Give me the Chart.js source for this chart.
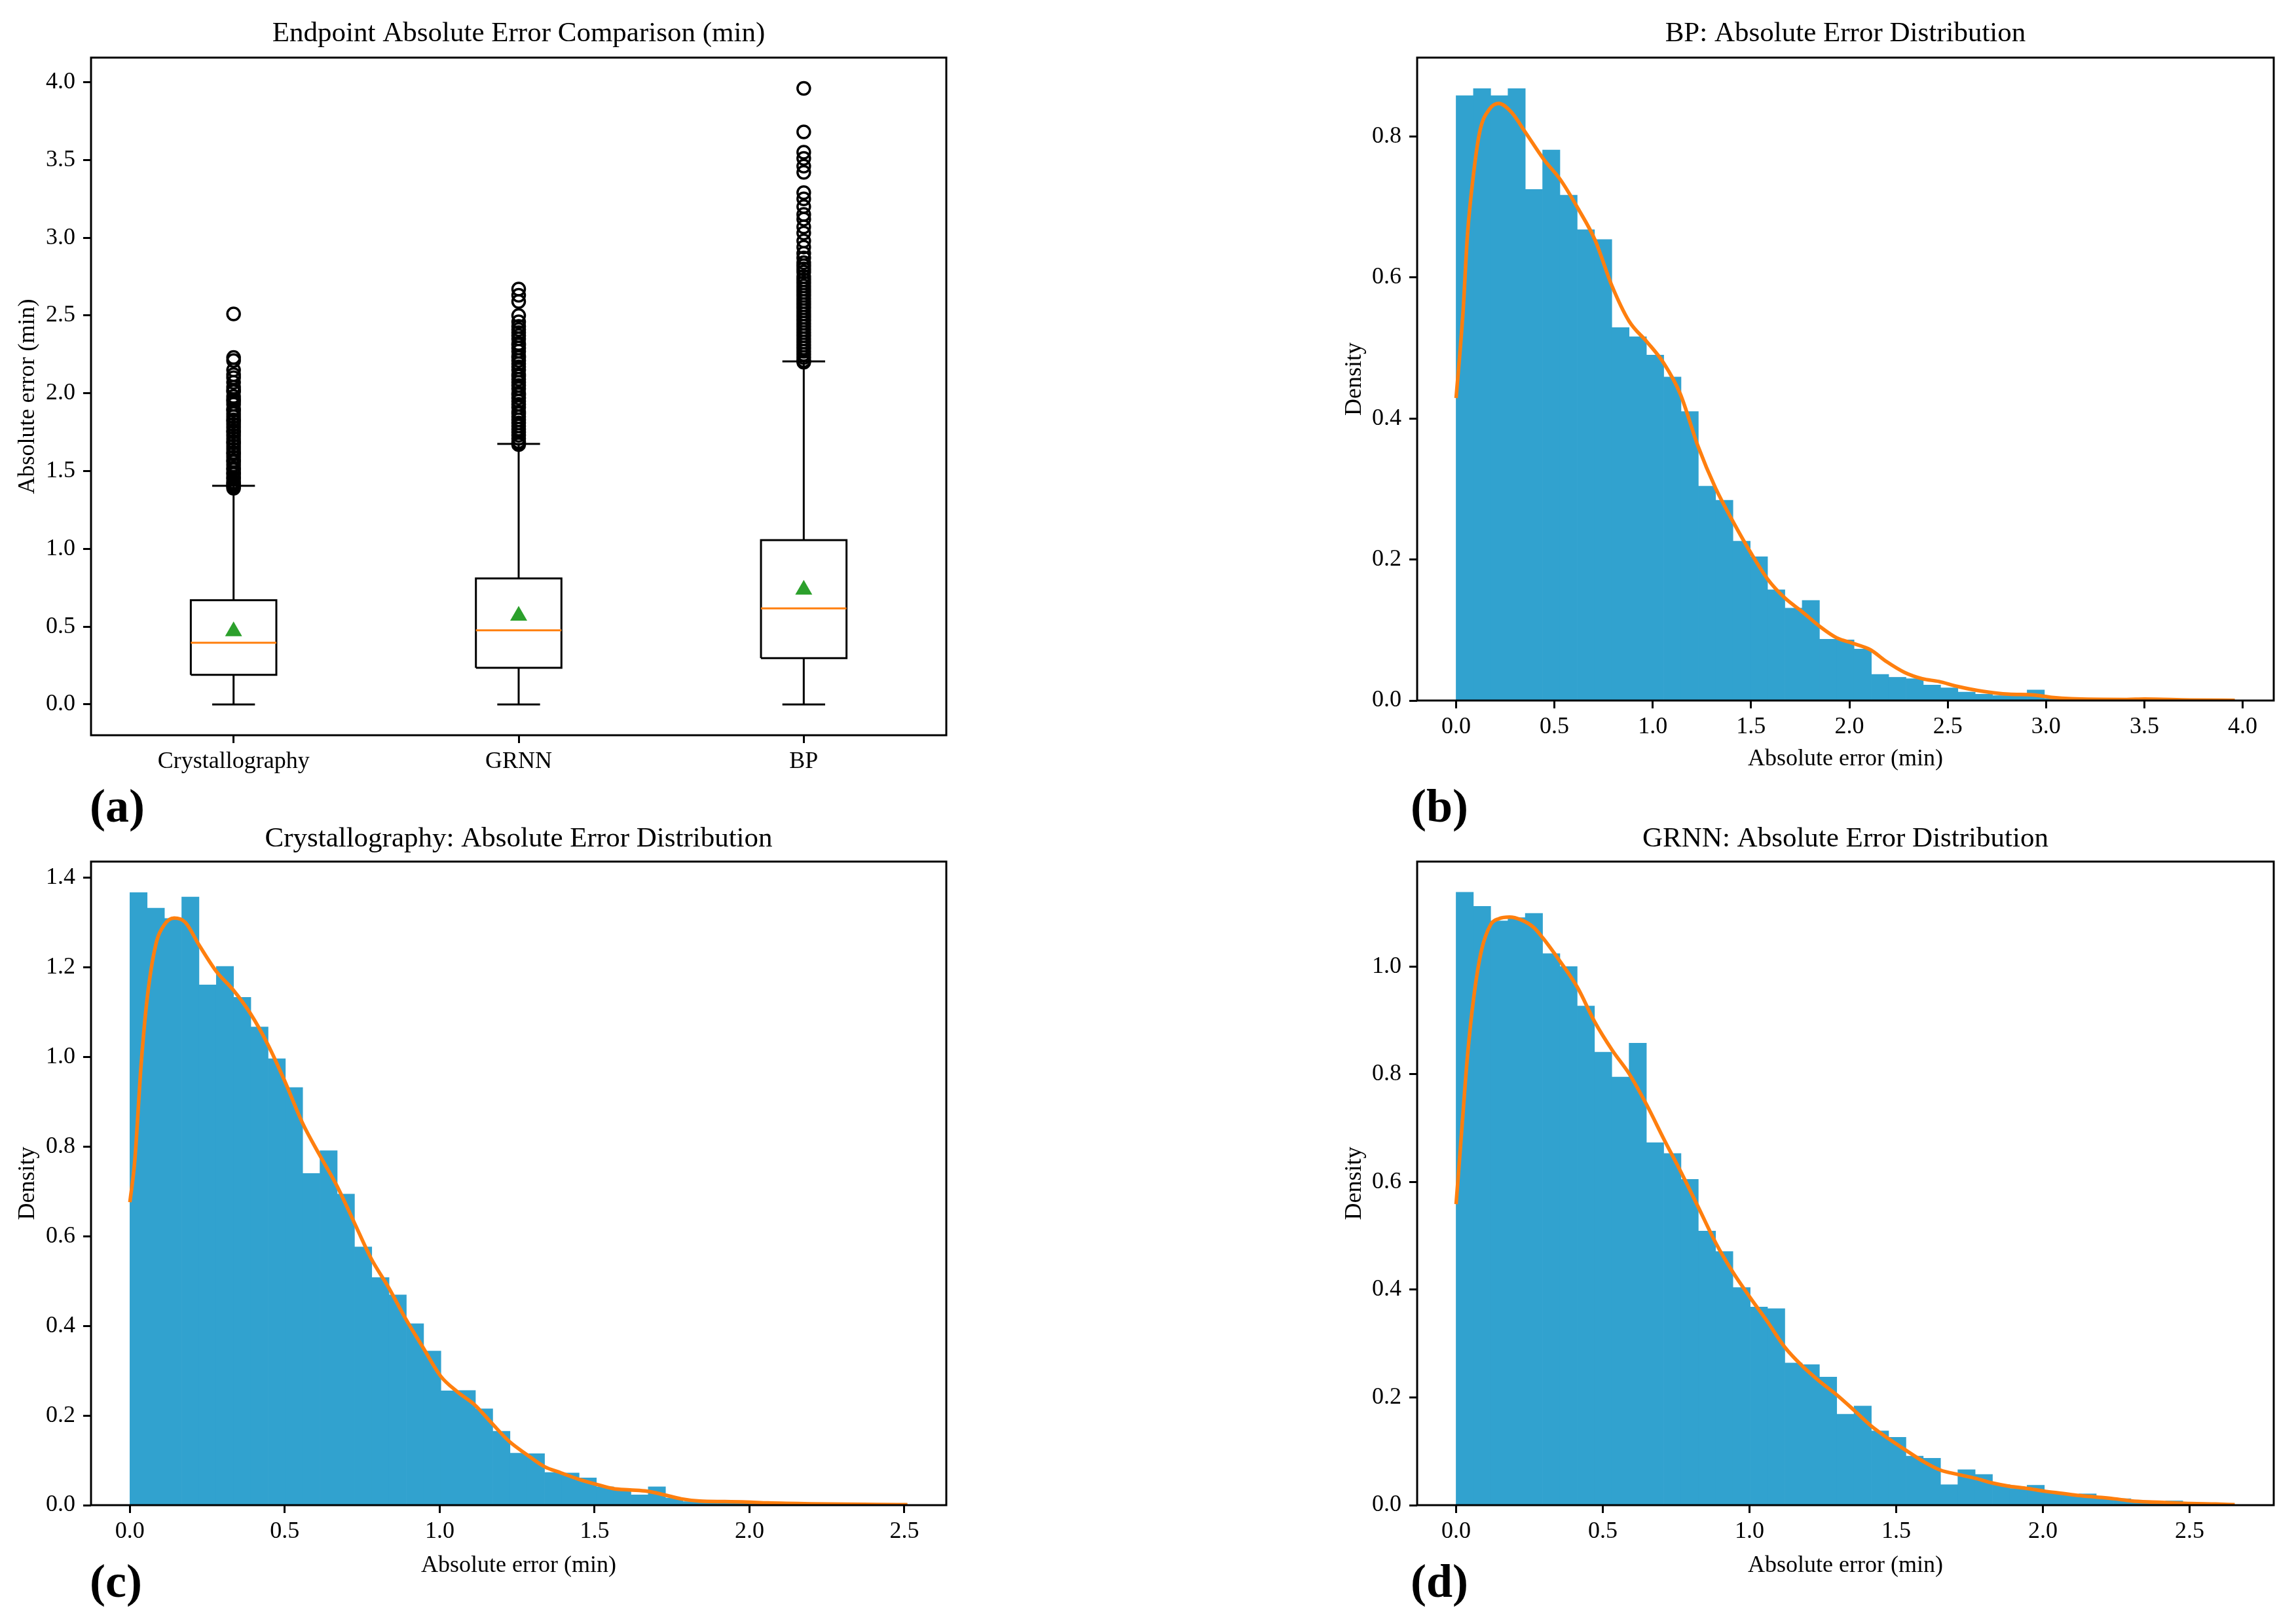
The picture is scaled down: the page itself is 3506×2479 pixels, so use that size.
<!DOCTYPE html>
<html>
<head>
<meta charset="utf-8">
<script src="https://cdn.jsdelivr.net/npm/chart.js@4.4.1/dist/chart.umd.min.js"></script>
<style>
  body { margin: 0; background: #fff; width: 3506px; height: 2479px; position: relative; overflow: hidden; font-family: 'Liberation Serif', serif; }
  canvas { position: absolute; }
  .tag { position: absolute; font-weight: bold; font-size: 72px; line-height: 72px; color: #000; }
</style>
</head>
<body>
<canvas id="boxChart" width="1500" height="1200" style="left:0;top:0"></canvas>
<canvas id="bpChart" width="1506" height="1200" style="left:2000px;top:0"></canvas>
<canvas id="crystChart" width="1500" height="1239" style="left:0;top:1240px"></canvas>
<canvas id="grnnChart" width="1506" height="1239" style="left:2000px;top:1240px"></canvas>
<div class="tag" style="left:137px;top:1195px">(a)</div>
<div class="tag" style="left:2154px;top:1195px">(b)</div>
<div class="tag" style="left:137px;top:2379px">(c)</div>
<div class="tag" style="left:2154px;top:2379px">(d)</div>
<script>
// Box plot (a)
var methods = ['Crystallography', 'GRNN', 'BP'];
var q1 = [0.19, 0.235, 0.298];
var medians = [0.396, 0.476, 0.617];
var q3 = [0.67, 0.81, 1.056];
var means = [0.47, 0.57, 0.737];
var whiskerLow = [0, 0, 0];
var whiskerHigh = [1.405, 1.675, 2.205];
var crystOutliers = [2.51, 2.23, 2.21, 2.15, 2.12, 2.10, 2.07, 2.04, 2.02, 2.01, 1.98, 1.96, 1.95, 1.93, 1.90, 1.89, 1.87, 1.85, 1.83, 1.82, 1.80, 1.78, 1.76, 1.75, 1.73, 1.71, 1.69, 1.68, 1.66, 1.64, 1.62, 1.61, 1.59, 1.57, 1.56, 1.54, 1.52, 1.51, 1.49, 1.48, 1.46, 1.45, 1.43, 1.42, 1.41, 1.40, 1.39];
var grnnOutliers = [2.67, 2.63, 2.59, 2.50, 2.46, 2.43, 2.41, 2.39, 2.37, 2.35, 2.32, 2.31, 2.29, 2.27, 2.24, 2.23, 2.21, 2.19, 2.17, 2.15, 2.12, 2.11, 2.09, 2.07, 2.05, 2.03, 2.00, 1.99, 1.97, 1.95, 1.93, 1.91, 1.88, 1.87, 1.85, 1.83, 1.81, 1.79, 1.77, 1.75, 1.73, 1.71, 1.69, 1.68, 1.67];
var bpOutliers = [3.96, 3.68, 3.55, 3.51, 3.46, 3.42, 3.29, 3.25, 3.20, 3.15, 3.12, 3.07, 3.03, 2.98, 2.94, 2.90, 2.87, 2.84, 2.82, 2.80, 2.78, 2.75, 2.73, 2.71, 2.69, 2.67, 2.65, 2.63, 2.61, 2.59, 2.57, 2.55, 2.53, 2.51, 2.49, 2.47, 2.45, 2.43, 2.41, 2.39, 2.37, 2.35, 2.33, 2.31, 2.29, 2.27, 2.25, 2.23, 2.21, 2.20];
var boxYTicks = [0, 0.5, 1, 1.5, 2, 2.5, 3, 3.5, 4];
var boxYRange = [-0.198, 4.158];

// Histograms (b), (c), (d) - 45 bins from 0 to the max error
var binCount = 45;
var bpMax = 3.96;
var bpDensity = [0.858, 0.868, 0.858, 0.868, 0.725, 0.781, 0.717, 0.668, 0.654, 0.529, 0.516, 0.490, 0.459, 0.410, 0.304, 0.284, 0.226, 0.204, 0.157, 0.131, 0.142, 0.087, 0.086, 0.073, 0.037, 0.033, 0.031, 0.022, 0.018, 0.012, 0.009, 0.007, 0.007, 0.015, 0.003, 0.002, 0.001, 0.001, 0.0005, 0.002, 0.0005, 0.0005, 0, 0.0005, 0.0005];
var bpKdeX = [0, 0.035, 0.058, 0.09, 0.122, 0.17, 0.217, 0.28, 0.355, 0.445, 0.53, 0.62, 0.707, 0.79, 0.88, 0.97, 1.055, 1.14, 1.23, 1.32, 1.41, 1.5, 1.585, 1.67, 1.76, 1.85, 1.935, 2.02, 2.107, 2.19, 2.28, 2.37, 2.455, 2.55, 2.68, 2.81, 2.935, 3.03, 3.13, 3.41, 3.5, 3.73, 3.96];
var bpKdeY = [0.429, 0.55, 0.661, 0.75, 0.809, 0.839, 0.847, 0.835, 0.805, 0.768, 0.739, 0.698, 0.653, 0.590, 0.538, 0.509, 0.479, 0.435, 0.361, 0.301, 0.253, 0.209, 0.172, 0.146, 0.126, 0.105, 0.089, 0.081, 0.072, 0.055, 0.040, 0.031, 0.027, 0.020, 0.013, 0.009, 0.008, 0.0045, 0.0025, 0.0015, 0.002, 0.0007, 0.0003];
var bpXTicks = [0, 0.5, 1, 1.5, 2, 2.5, 3, 3.5, 4];
var bpYTicks = [0, 0.2, 0.4, 0.6, 0.8];
var bpXRange = [-0.198, 4.158];
var bpYMax = 0.912;

var crystMax = 2.51;
var crystDensity = [1.367, 1.332, 1.309, 1.357, 1.161, 1.202, 1.133, 1.067, 0.996, 0.932, 0.740, 0.791, 0.694, 0.576, 0.508, 0.469, 0.405, 0.344, 0.255, 0.256, 0.215, 0.165, 0.116, 0.115, 0.073, 0.072, 0.061, 0.041, 0.034, 0.023, 0.041, 0.016, 0.008, 0.009, 0.009, 0.007, 0.005, 0.002, 0.002, 0.001, 0.001, 0.001, 0.0005, 0.0005, 0.001];
var crystKdeX = [0, 0.016, 0.036, 0.056, 0.083, 0.111, 0.143, 0.178, 0.224, 0.28, 0.333, 0.389, 0.446, 0.5, 0.557, 0.611, 0.668, 0.724, 0.779, 0.835, 0.89, 0.946, 1.003, 1.057, 1.113, 1.168, 1.225, 1.281, 1.338, 1.392, 1.448, 1.503, 1.56, 1.614, 1.67, 1.725, 1.78, 1.84, 1.92, 1.99, 2.06, 2.2, 2.41, 2.51];
var crystKdeY = [0.676, 0.771, 0.981, 1.132, 1.249, 1.295, 1.310, 1.301, 1.249, 1.19, 1.15, 1.097, 1.027, 0.946, 0.853, 0.783, 0.713, 0.631, 0.55, 0.486, 0.416, 0.352, 0.288, 0.253, 0.224, 0.183, 0.142, 0.113, 0.086, 0.072, 0.058, 0.047, 0.037, 0.034, 0.031, 0.023, 0.014, 0.009, 0.008, 0.007, 0.005, 0.003, 0.0015, 0.001];
var crystXTicks = [0, 0.5, 1, 1.5, 2, 2.5];
var crystYTicks = [0, 0.2, 0.4, 0.6, 0.8, 1.0, 1.2, 1.4];
var crystXRange = [-0.1255, 2.6355];
var crystYMax = 1.436;

var grnnMax = 2.654;
var grnnDensity = [1.138, 1.112, 1.085, 1.091, 1.099, 1.024, 1.000, 0.927, 0.841, 0.795, 0.858, 0.673, 0.653, 0.605, 0.509, 0.471, 0.404, 0.368, 0.365, 0.264, 0.261, 0.238, 0.169, 0.184, 0.138, 0.126, 0.091, 0.087, 0.038, 0.066, 0.057, 0.038, 0.031, 0.037, 0.023, 0.019, 0.021, 0.012, 0.012, 0.007, 0.007, 0.008, 0.002, 0.001, 0.001];
var grnnKdeX = [0, 0.017, 0.039, 0.06, 0.086, 0.118, 0.146, 0.182, 0.221, 0.264, 0.296, 0.354, 0.414, 0.472, 0.532, 0.59, 0.65, 0.708, 0.768, 0.825, 0.886, 0.943, 1.003, 1.061, 1.121, 1.179, 1.239, 1.297, 1.357, 1.415, 1.475, 1.533, 1.593, 1.651, 1.711, 1.769, 1.829, 1.887, 1.947, 2.005, 2.065, 2.123, 2.183, 2.241, 2.301, 2.358, 2.418, 2.504, 2.59, 2.654];
var grnnKdeY = [0.559, 0.68, 0.835, 0.942, 1.029, 1.078, 1.089, 1.092, 1.087, 1.073, 1.053, 1.01, 0.961, 0.898, 0.845, 0.801, 0.743, 0.68, 0.617, 0.554, 0.486, 0.433, 0.385, 0.341, 0.293, 0.259, 0.23, 0.205, 0.176, 0.147, 0.123, 0.102, 0.081, 0.065, 0.057, 0.050, 0.041, 0.035, 0.031, 0.026, 0.022, 0.018, 0.015, 0.012, 0.008, 0.006, 0.005, 0.003, 0.002, 0.001];
var grnnXTicks = [0, 0.5, 1, 1.5, 2, 2.5];
var grnnYTicks = [0, 0.2, 0.4, 0.6, 0.8, 1.0];
var grnnXRange = [-0.1327, 2.787];
var grnnYMax = 1.195;

Chart.defaults.font.family = "'Liberation Serif', serif";
Chart.defaults.color = '#000';

var histColor = '#31a2cf';
var kdeColor = '#ff7f0e';
var tickGrid = { display: true, offset: false, drawOnChartArea: false, drawTicks: true, tickLength: 12, tickWidth: 3, tickColor: '#000' };

// full box around the plotting area, like matplotlib spines
var framePlugin = {
    id: 'frame',
    afterDraw: function(chart){
        var a = chart.chartArea, c = chart.ctx;
        c.save();
        c.strokeStyle = '#000';
        c.lineWidth = 3;
        c.strokeRect(a.left, a.top, a.right - a.left, a.bottom - a.top);
        c.restore();
    }
};

function fixedTicks(list){
    return function(s){ s.ticks = list.map(function(v){ return {value: v}; }); };
}

function yAxis(g, ticks, range, title){
    return {
        type: 'linear', position: 'left', min: range[0], max: range[1],
        afterFit: function(s){ s.width = g.yWidth; },
        afterBuildTicks: fixedTicks(ticks),
        ticks: { padding: 12, autoSkip: false, font: {size: 36}, callback: function(v){ return v.toFixed(1); } },
        grid: tickGrid,
        border: {display: false},
        title: { display: true, text: title, font: {size: 36}, padding: {top: g.yTitlePad, bottom: 0} }
    };
}

function xAxis(g, ticks, range, title, labelFn){
    return {
        type: 'linear', position: 'bottom', min: range[0], max: range[1], offset: false,
        afterFit: function(s){ s.height = g.xHeight; },
        afterBuildTicks: fixedTicks(ticks),
        ticks: { padding: 7, autoSkip: false, maxRotation: 0, font: {size: 36}, callback: labelFn },
        grid: tickGrid,
        border: {display: false},
        title: { display: !!title, text: title || '', font: {size: 36}, padding: {top: 0, bottom: g.xTitlePad} }
    };
}

// the panel title sits on an empty top axis so it is centred over the plot area
function titleAxis(g, title){
    return {
        type: 'linear', position: 'top', min: 0, max: 1, offset: false,
        afterFit: function(s){ s.height = g.titleHeight; },
        ticks: {display: false},
        grid: {display: false, drawTicks: false},
        border: {display: false},
        title: { display: true, text: title, font: {size: 43}, padding: {top: g.titleTop, bottom: 0} }
    };
}

function baseOptions(g){
    return {
        responsive: false,
        animation: false,
        devicePixelRatio: 1,
        layout: { padding: {left: 0, right: g.right, top: 0, bottom: 0} },
        plugins: { legend: {display: false}, tooltip: {enabled: false} }
    };
}

// ---- (a) box plot ----
var boxGeom = { yWidth: 139, right: 55, titleHeight: 88, titleTop: 26, xHeight: 77, xTitlePad: 0, yTitlePad: 21 };
var outlierSets = [crystOutliers, grnnOutliers, bpOutliers];
var halfBox = 0.15, halfCap = 0.075;

function seg(data, color){
    return { data: data, showLine: true, borderColor: color, borderWidth: 3, pointRadius: 0, tension: 0, fill: false };
}

var boxSets = [];
methods.forEach(function(m, i){
    var p = i + 1;
    boxSets.push({ data: [{x: p, y: means[i]}], pointStyle: 'triangle', pointRadius: 15, backgroundColor: '#2ca02c', borderColor: '#2ca02c', borderWidth: 0 });
    boxSets.push(seg([{x: p - halfBox, y: medians[i]}, {x: p + halfBox, y: medians[i]}], kdeColor));
});
methods.forEach(function(m, i){
    var p = i + 1;
    boxSets.push(seg([{x: p - halfBox, y: q1[i]}, {x: p + halfBox, y: q1[i]}, {x: p + halfBox, y: q3[i]}, {x: p - halfBox, y: q3[i]}, {x: p - halfBox, y: q1[i]}], '#000'));
    boxSets.push(seg([{x: p, y: q1[i]}, {x: p, y: whiskerLow[i]}], '#000'));
    boxSets.push(seg([{x: p, y: q3[i]}, {x: p, y: whiskerHigh[i]}], '#000'));
    boxSets.push(seg([{x: p - halfCap, y: whiskerLow[i]}, {x: p + halfCap, y: whiskerLow[i]}], '#000'));
    boxSets.push(seg([{x: p - halfCap, y: whiskerHigh[i]}, {x: p + halfCap, y: whiskerHigh[i]}], '#000'));
    boxSets.push({ data: outlierSets[i].map(function(v){ return {x: p, y: v}; }), pointStyle: 'circle', pointRadius: 9.5, borderWidth: 3.5, borderColor: '#000', backgroundColor: 'rgba(0,0,0,0)' });
});

var boxOpts = baseOptions(boxGeom);
boxOpts.scales = {
    x: xAxis(boxGeom, [1, 2, 3], [0.5, 3.5], null, function(v){ return methods[Math.round(v) - 1]; }),
    top: titleAxis(boxGeom, 'Endpoint Absolute Error Comparison (min)'),
    y: yAxis(boxGeom, boxYTicks, boxYRange, 'Absolute error (min)')
};
new Chart(document.getElementById('boxChart'), { type: 'scatter', data: {datasets: boxSets}, options: boxOpts, plugins: [framePlugin] });

// ---- histograms ----
function histPoints(maxValue, density){
    var w = maxValue / binCount;
    return density.map(function(d, k){ return {x: w * (k + 0.5), y: d}; });
}
function kdePoints(xs, ys){
    return xs.map(function(x, i){ return {x: x, y: ys[i]}; });
}

function makeHist(id, g, title, maxValue, density, kdeX, kdeY, xTicks, yTicks, xRange, yMax){
    var opts = baseOptions(g);
    opts.scales = {
        x: xAxis(g, xTicks, xRange, 'Absolute error (min)', function(v){ return v.toFixed(1); }),
        top: titleAxis(g, title),
        y: yAxis(g, yTicks, [0, yMax], 'Density')
    };
    new Chart(document.getElementById(id), {
        type: 'bar',
        data: { datasets: [
            { type: 'line', data: kdePoints(kdeX, kdeY), borderColor: kdeColor, borderWidth: 5.5, pointRadius: 0, cubicInterpolationMode: 'monotone', fill: false },
            { type: 'bar', data: histPoints(maxValue, density), backgroundColor: histColor, borderWidth: 0, barPercentage: 1, categoryPercentage: 1 }
        ] },
        options: opts,
        plugins: [framePlugin]
    });
}

var topRight = { yWidth: 164, right: 34, titleHeight: 88, titleTop: 26, xHeight: 130, xTitlePad: 19, yTitlePad: 47 };
var bottomLeft = { yWidth: 139, right: 55, titleHeight: 76, titleTop: 16, xHeight: 180, xTitlePad: 66, yTitlePad: 21 };
var bottomRight = { yWidth: 164, right: 34, titleHeight: 76, titleTop: 16, xHeight: 180, xTitlePad: 66, yTitlePad: 47 };

makeHist('bpChart', topRight, 'BP: Absolute Error Distribution', bpMax, bpDensity, bpKdeX, bpKdeY, bpXTicks, bpYTicks, bpXRange, bpYMax);
makeHist('crystChart', bottomLeft, 'Crystallography: Absolute Error Distribution', crystMax, crystDensity, crystKdeX, crystKdeY, crystXTicks, crystYTicks, crystXRange, crystYMax);
makeHist('grnnChart', bottomRight, 'GRNN: Absolute Error Distribution', grnnMax, grnnDensity, grnnKdeX, grnnKdeY, grnnXTicks, grnnYTicks, grnnXRange, grnnYMax);
</script>
</body>
</html>
